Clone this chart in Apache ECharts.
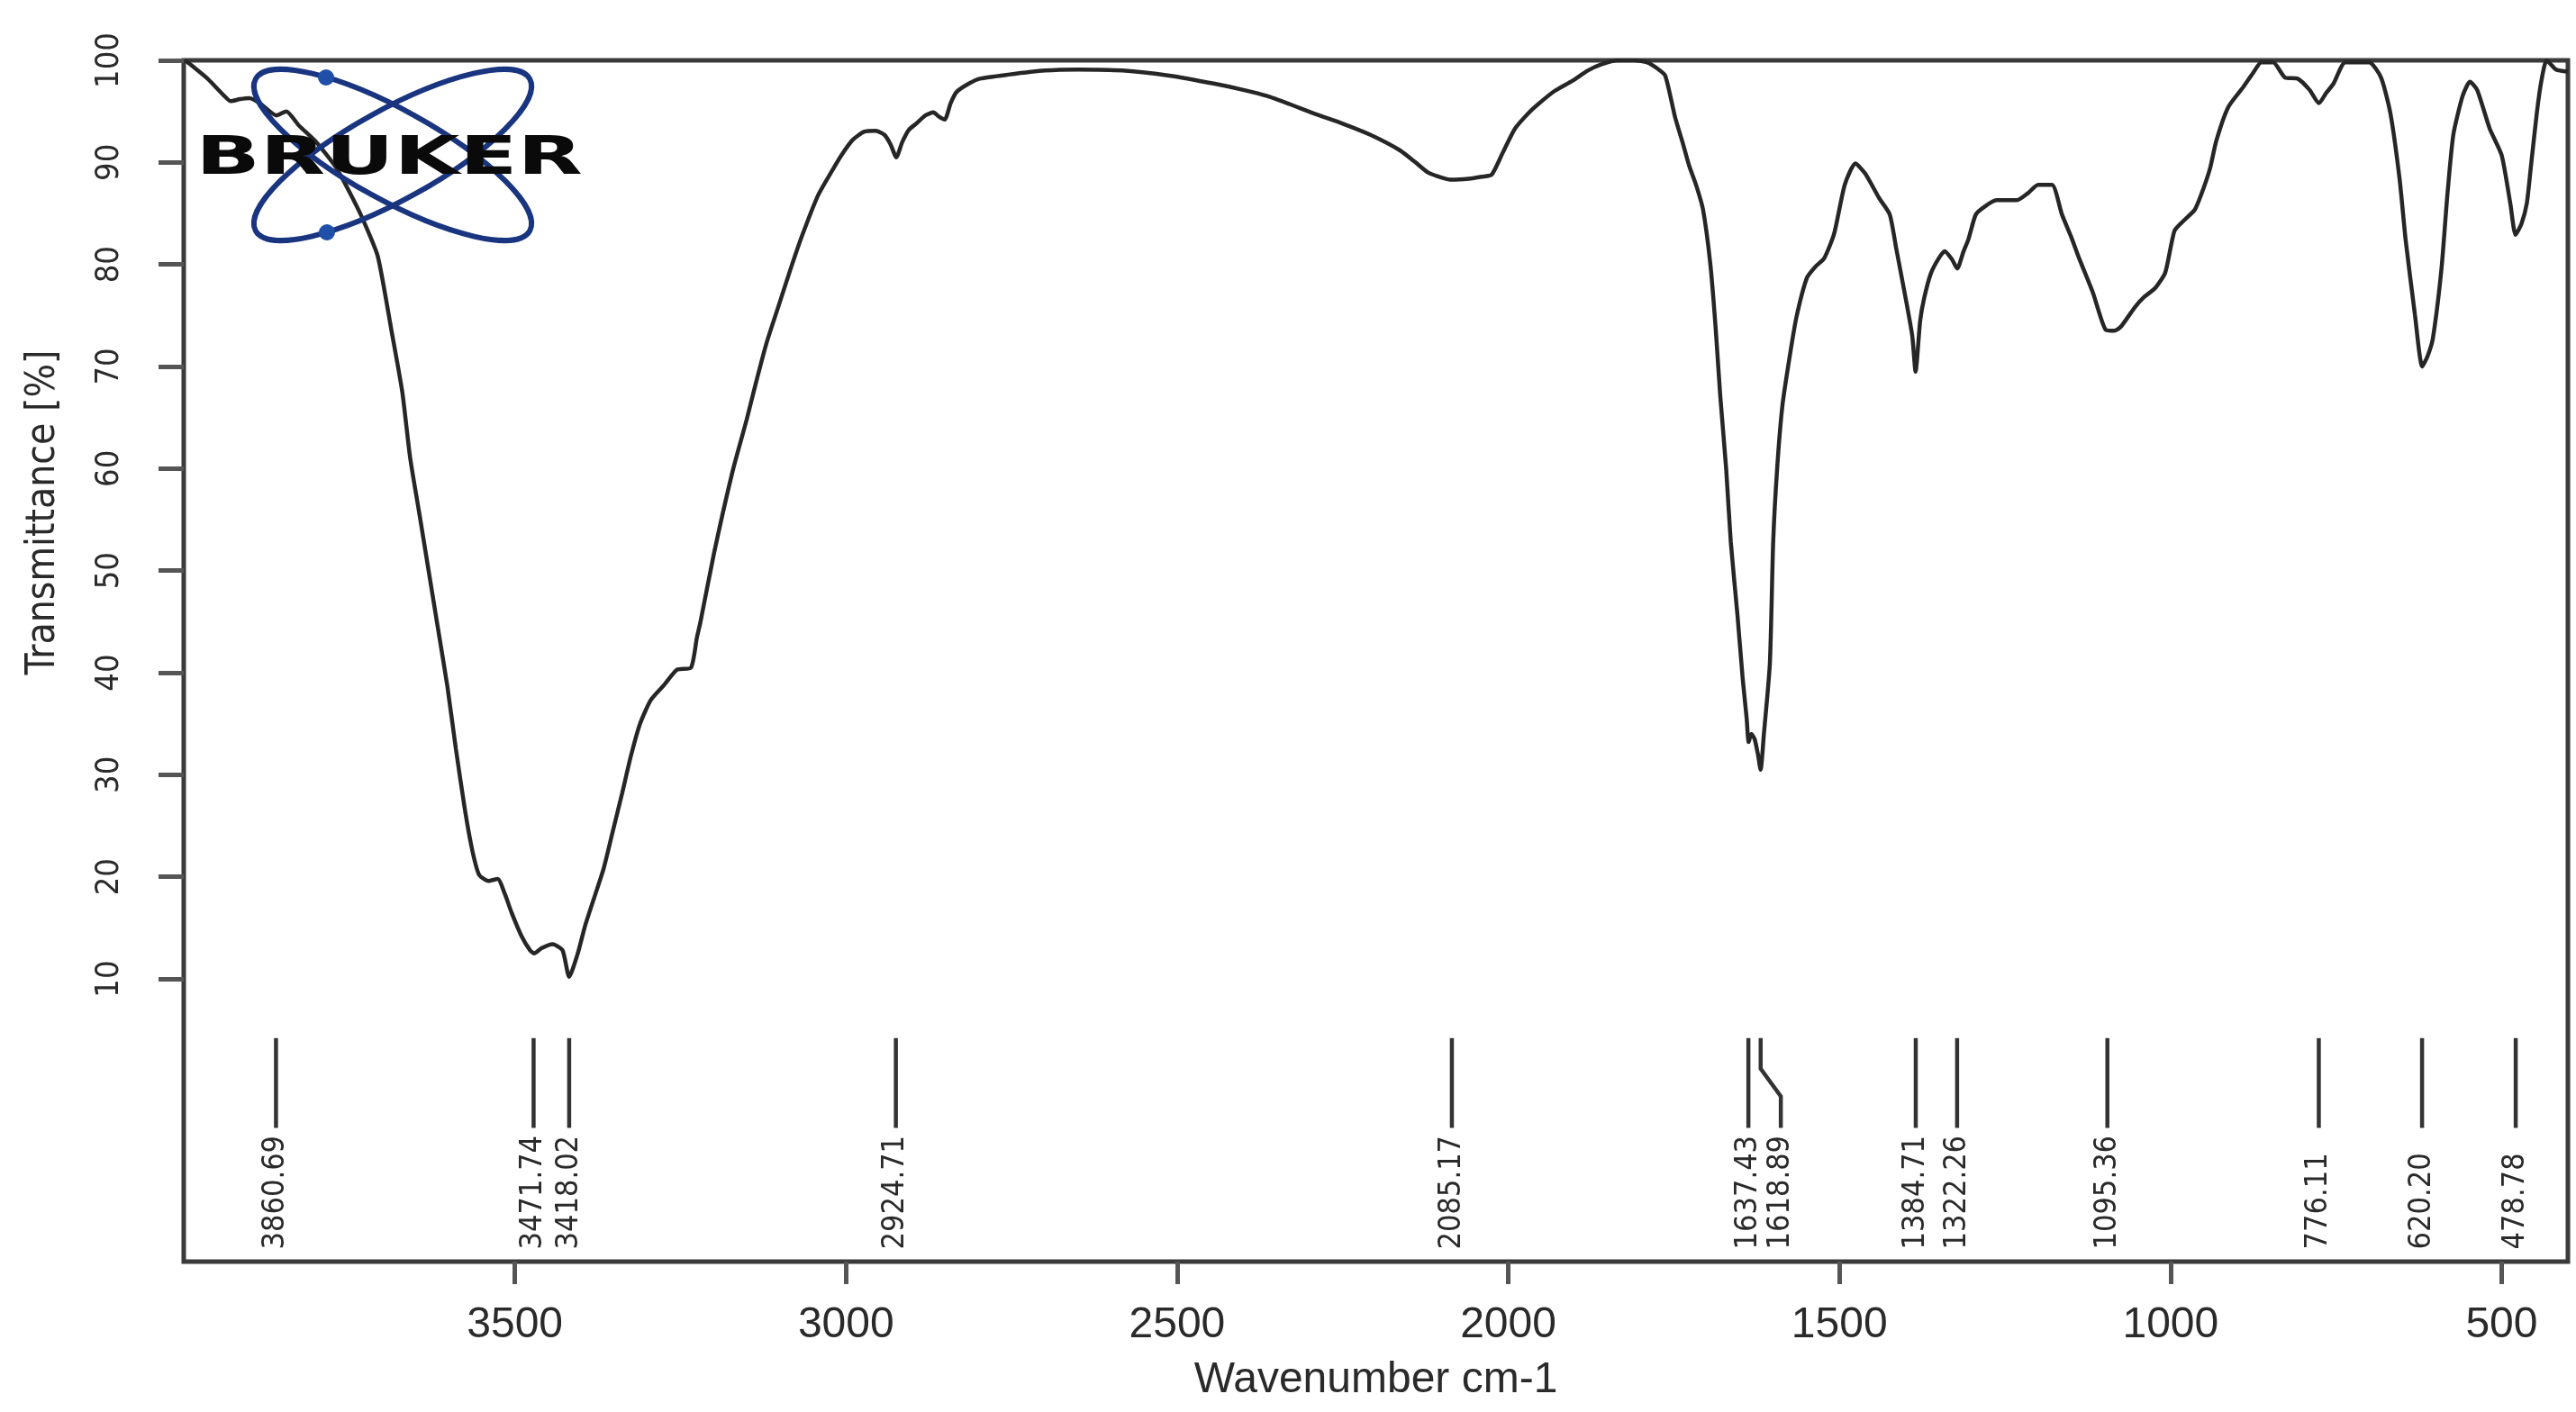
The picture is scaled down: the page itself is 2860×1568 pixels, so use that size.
<!DOCTYPE html>
<html>
<head>
<meta charset="utf-8">
<title>IR spectrum</title>
<script src="https://cdn.jsdelivr.net/npm/echarts@6/dist/echarts.min.js"></script>
<style>
    html, body { margin: 0; padding: 0; background: #fff; }
    #chart { width: 2860px; height: 1568px; }
</style>
</head>
<body>
<div id="chart"></div>
<script>
    // wavenumber (cm-1), descending
    const wavenumber = [
        3998, 3990, 3964, 3940, 3929, 3915, 3901, 3885, 3860, 3845, 3826, 3800, 3770, 3745, 3728, 3707,
        3686, 3670, 3658, 3644, 3630, 3616, 3602, 3589, 3575, 3564, 3554, 3540, 3526, 3515, 3505, 3490,
        3477, 3471, 3460, 3443, 3428, 3418, 3405, 3394, 3380, 3366, 3352, 3338, 3325, 3311, 3295, 3276,
        3255, 3234, 3225, 3220, 3199, 3171, 3150, 3136, 3120, 3102, 3085, 3067, 3042, 3020, 3007, 2990,
        2973, 2955, 2942, 2933, 2924, 2915, 2905, 2894, 2880, 2868, 2860, 2851, 2842, 2833, 2815, 2798,
        2755, 2700, 2650, 2582, 2512, 2443, 2400, 2364, 2330, 2294, 2250, 2208, 2164, 2140, 2121, 2100,
        2085, 2060, 2040, 2025, 2008, 1990, 1970, 1955, 1930, 1903, 1880, 1860, 1834, 1810, 1790, 1775,
        1763, 1748, 1737, 1727, 1716, 1706, 1695, 1687, 1680, 1671, 1664, 1654, 1646, 1640, 1637, 1633,
        1628, 1623, 1619, 1614, 1605, 1600, 1594, 1586, 1575, 1565, 1549, 1536, 1523, 1508, 1492, 1476,
        1461, 1440, 1424, 1414, 1400, 1390, 1385, 1378, 1372, 1362, 1350, 1341, 1330, 1322, 1313, 1305,
        1294, 1280, 1263, 1232, 1215, 1200, 1179, 1164, 1150, 1138, 1117, 1098, 1085, 1075, 1054, 1040,
        1023, 1008, 994, 980, 963, 950, 940, 931, 913, 890, 875, 863, 845, 827, 808, 790,
        776, 765, 754, 736, 700, 682, 668, 654, 645, 631, 620, 612, 604, 591, 582, 573,
        559, 548, 537, 518, 500, 487, 479, 470, 462, 456, 447, 440, 432, 418, 400
    ];
    // transmittance (%)
    const transmittance = [
        100, 99.6, 98.2, 96.6, 96.0, 96.2, 96.3, 95.8, 94.6, 95.0, 93.6, 92.0, 89.5, 86.5, 84.2, 80.8,
        73.4, 67.5, 61.0, 55.5, 49.9, 44.3, 38.7, 32.5, 26.4, 22.5, 20.2, 19.6, 19.8, 18.3, 16.5, 14.2,
        12.8, 12.5, 13.0, 13.4, 12.8, 10.2, 12.5, 15.2, 18.0, 20.8, 24.5, 28.2, 31.8, 35.0, 37.3, 38.7,
        40.3, 40.5, 43.5, 44.9, 51.8, 59.8, 64.8, 68.4, 72.3, 75.9, 79.3, 82.7, 86.8, 89.3, 90.7, 92.2,
        93.0, 93.1, 92.7, 91.8, 90.5, 92.0, 93.2, 93.8, 94.6, 94.9, 94.5, 94.2, 95.8, 96.9, 97.7, 98.2,
        98.6, 99.0, 99.1, 99.0, 98.5, 97.7, 97.1, 96.5, 95.7, 94.8, 93.8, 92.7, 91.2, 90.0, 89.0, 88.5,
        88.3, 88.4, 88.6, 88.8, 91.0, 93.3, 94.8, 95.7, 97.0, 98.0, 99.0, 99.6, 100, 100, 99.8, 99.2,
        98.5, 94.4, 92.0, 89.7, 87.7, 85.4, 80.1, 73.9, 67.2, 60.0, 52.8, 45.7, 39.4, 35.5, 33.2, 34.0,
        33.5, 32.0, 30.5, 34.0, 40.9, 52.8, 60.0, 66.2, 71.0, 74.8, 78.7, 79.8, 80.6, 83.0, 87.8, 89.9,
        88.9, 86.5, 84.9, 81.5, 76.7, 73.0, 69.5, 74.5, 76.7, 79.1, 80.6, 81.3, 80.5, 79.6, 81.2, 82.5,
        84.9, 85.7, 86.3, 86.3, 87.0, 87.8, 87.8, 84.9, 82.7, 80.6, 77.2, 73.6, 73.5, 73.9, 75.8, 76.8,
        77.7, 79.2, 83.3, 84.3, 85.4, 87.5, 89.5, 92.1, 95.4, 97.4, 98.8, 99.8, 99.8, 98.3, 98.2, 97.1,
        95.8, 96.8, 97.7, 99.8, 99.8, 98.3, 94.8, 88.3, 82.4, 75.1, 70.0, 71.0, 72.7, 79.5, 86.8, 92.7,
        96.5, 97.9, 97.1, 93.3, 90.7, 86.0, 82.9, 84.0, 86.0, 89.5, 94.8, 98.0, 100, 99.1, 98.9
    ];
    // picked peaks
    const peaks = [3860.69, 3471.74, 3418.02, 2924.71, 2085.17, 1637.43, 1618.89,
        1384.71, 1322.26, 1095.36, 776.11, 620.20, 478.78];
    const xTicks = [500, 1000, 1500, 2000, 2500, 3000, 3500];
    const yTicks = [10, 20, 30, 40, 50, 60, 70, 80, 90, 100];

    const chart = echarts.init(document.getElementById('chart'));

    const labelFont = '"Liberation Sans", Arial, sans-serif';
    const narrowFont = '"Liberation Sans Narrow", "DejaVu Sans Condensed", "Liberation Sans", sans-serif';
    const minGap = 36; // px between neighbouring peak labels

    function renderPeak(params, api) {
        const i = params.dataIndex;
        const wn = api.value(0);
        // push labels apart when peaks sit too close together
        let lx = -Infinity;
        for (let j = 0; j <= i; j++) {
            const px = api.coord([peaks[j], 0])[0];
            lx = Math.max(px, lx + minGap);
        }
        const top = api.coord([wn, 4.2]);
        const knee1 = api.coord([wn, 1.2]);
        const knee2 = api.coord([wn, -1.5]);
        const bottom = api.coord([wn, -4.6]);
        const textPos = api.coord([wn, -16.5]);
        return {
            type: 'group',
            children: [{
                type: 'polyline',
                shape: {
                    points: [top, knee1, [lx, knee2[1]], [lx, bottom[1]]]
                },
                style: {stroke: '#333', lineWidth: 4.5, fill: null}
            }, {
                type: 'text',
                x: lx,
                y: textPos[1],
                rotation: Math.PI / 2,
                style: {
                    text: wn.toFixed(2),
                    fontSize: 34,
                    fontFamily: narrowFont,
                    fill: '#2a2a2a',
                    align: 'left',
                    verticalAlign: 'middle'
                }
            }]
        };
    }

    const option = {
        animation: false,
        backgroundColor: '#fff',
        grid: {
            left: 204, right: 9, top: 67, bottom: 167,
            show: true,
            borderColor: '#3a3a3a',
            borderWidth: 5,
            containLabel: false
        },
        xAxis: {
            type: 'value',
            inverse: true,
            min: 400,
            max: 4000,
            name: 'Wavenumber cm-1',
            nameLocation: 'middle',
            nameGap: 108,
            nameTextStyle: {fontSize: 48, fontFamily: labelFont, color: '#2a2a2a'},
            axisLine: {show: false, onZero: false},
            splitLine: {show: false},
            axisTick: {
                show: true, length: 25, customValues: xTicks,
                lineStyle: {color: '#555', width: 5}
            },
            axisLabel: {
                customValues: xTicks, margin: 47,
                formatter: v => String(v),
                fontSize: 48, fontFamily: labelFont, color: '#2a2a2a'
            }
        },
        yAxis: {
            type: 'value',
            min: -17.7,
            max: 100,
            axisLine: {show: false, onZero: false},
            splitLine: {show: false},
            axisTick: {
                show: true, length: 28, customValues: yTicks,
                lineStyle: {color: '#555', width: 5}
            },
            axisLabel: {
                customValues: yTicks, rotate: 90, margin: 64,
                formatter: v => String(v),
                fontSize: 36, fontFamily: narrowFont, color: '#2a2a2a'
            }
        },
        graphic: [
            {
                type: 'text', x: 49, y: 569, rotation: Math.PI / 2, z: 100,
                style: {
                    text: 'Transmittance [%]', fontSize: 44, fontFamily: narrowFont,
                    fill: '#2a2a2a', align: 'center', verticalAlign: 'middle'
                }
            },
            // Bruker logo
            {
                type: 'ellipse', x: 436, y: 172, rotation: 29 * Math.PI / 180, z: 100,
                shape: {cx: 0, cy: 0, rx: 174, ry: 50},
                style: {fill: null, stroke: '#1a3580', lineWidth: 6}
            },
            {
                type: 'ellipse', x: 436, y: 172, rotation: -29 * Math.PI / 180, z: 100,
                shape: {cx: 0, cy: 0, rx: 174, ry: 50},
                style: {fill: null, stroke: '#1a3580', lineWidth: 6}
            },
            {
                type: 'circle', z: 101,
                shape: {cx: 362, cy: 86, r: 9},
                style: {fill: '#1f4fa8'}
            },
            {
                type: 'circle', z: 101,
                shape: {cx: 363, cy: 258, r: 9},
                style: {fill: '#1f4fa8'}
            },
            {
                type: 'text', x: 432, y: 178, scaleX: 1.62, z: 102,
                style: {
                    text: 'BRUKER', fontSize: 58, fontWeight: 'bold',
                    fontFamily: '"DejaVu Sans", sans-serif', fill: '#0a0a0a',
                    align: 'center', verticalAlign: 'middle'
                }
            }
        ],
        series: [
            {
                type: 'line',
                data: wavenumber.map((w, i) => [w, transmittance[i]]),
                symbol: 'none',
                smooth: 0.2,
                lineStyle: {color: '#262626', width: 4.5},
                clip: true,
                z: 3
            },
            {
                type: 'custom',
                data: peaks.map(p => [p]),
                renderItem: renderPeak,
                clip: false,
                z: 4
            }
        ]
    };

    chart.setOption(option);
</script>
</body>
</html>
